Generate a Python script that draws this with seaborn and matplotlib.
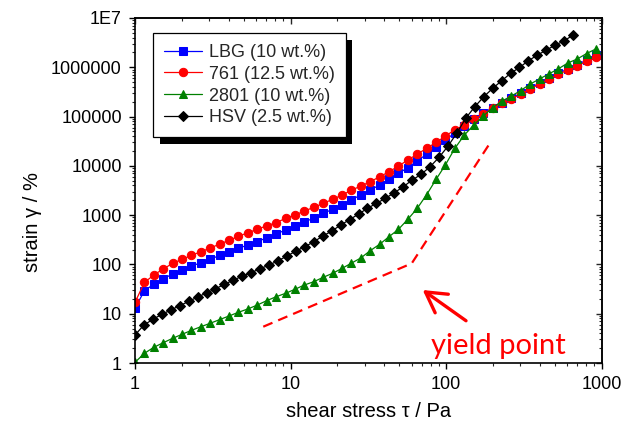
import matplotlib
matplotlib.use("Agg")
import matplotlib.pyplot as plt
import seaborn as sns
import pandas as pd
from matplotlib.ticker import NullFormatter, LogLocator
from matplotlib.patches import Rectangle
from matplotlib.transforms import IdentityTransform

# ---------------- data ----------------
stress_std = [1.000, 1.149, 1.321, 1.519, 1.746, 2.007, 2.307, 2.652, 3.048, 3.504,
              4.027, 4.629, 5.321, 6.116, 7.031, 8.082, 9.290, 10.68, 12.27, 14.11,
              16.22, 18.64, 21.43, 24.63, 28.31, 32.54, 37.41, 43.00, 49.43, 56.82,
              65.31, 75.07, 86.30, 99.19, 114.0, 131.1, 150.7, 173.2, 199.1, 228.8,
              263.0, 302.4, 347.5, 399.5, 459.2, 527.9, 606.7, 697.4, 801.7, 921.5]

stress_hsv = [1.000, 1.142, 1.303, 1.488, 1.698, 1.939, 2.213, 2.527, 2.884, 3.293,
              3.758, 4.290, 4.898, 5.591, 6.383, 7.286, 8.318, 9.495, 10.84, 12.37,
              14.13, 16.13, 18.41, 21.02, 23.99, 27.38, 31.26, 35.69, 40.74, 46.51,
              53.09, 60.60, 69.18, 78.97, 90.16, 102.9, 117.5, 134.1, 153.1, 174.8,
              199.5, 227.8, 260.0, 296.8, 338.8, 386.7, 441.6, 504.1, 575.4, 656.9]

strain_lbg = [13, 29, 40, 51, 64, 77, 93, 108, 127, 153,
              181, 212, 249, 289, 348, 414, 499, 592, 735, 861,
              1087, 1310, 1602, 2050, 2557, 3228, 4083, 5321, 7047, 9162,
              12680, 17100, 23710, 33340, 46900, 65000, 90000, 116000, 152000, 192000,
              236000, 298000, 378000, 478000, 605000, 755000, 925000, 1120000, 1400000, 1750000]

strain_761 = [17, 43, 61, 81, 105, 127, 153, 181, 215, 259,
              308, 372, 440, 515, 610, 702, 861, 1005, 1211, 1440,
              1734, 2089, 2557, 3200, 3900, 4755, 6010, 7586, 9908, 13110,
              17340, 22650, 29990, 40180, 54000, 67000, 87700, 112400, 146600, 185300,
              226500, 286000, 361000, 456000, 577000, 718000, 877000, 1057000, 1318000, 1633000]

strain_2801 = [1.03, 1.57, 2.08, 2.58, 3.17, 3.82, 4.6, 5.45, 6.4, 7.6,
               9.0, 10.7, 12.5, 15.0, 18.4, 22.1, 25.9, 31.3, 38.2, 44.6,
               54.7, 66, 83, 106, 135, 190, 256, 365, 515, 822,
               1374, 2600, 5300, 10500, 22650, 42000, 67300, 102000, 150000, 206000,
               260000, 338000, 456000, 580000, 735000, 930000, 1220000, 1470000, 1900000, 2360000]

strain_hsv = [3.7, 5.9, 7.7, 9.7, 11.9, 14.5, 17.8, 21.8, 26.3, 32,
              39.5, 48, 58, 68, 82, 97, 119, 148, 187, 229,
              289, 376, 475, 629, 810, 1052, 1374, 1734, 2193, 2844,
              3767, 5152, 6730, 9590, 14860, 25000, 46500, 93000, 158000, 252000,
              373000, 532000, 752000, 995000, 1355000, 1767000, 2232000, 2820000, 3450000, 4500000]

series_labels = ["LBG (10 wt.%)", "761 (12.5 wt.%)", "2801 (10 wt.%)", "HSV (2.5 wt.%)"]

# yield point guide (dashed) and arrow
yield_x = [6.68, 60.2, 190]
yield_y = [5.45, 105, 27700]
arrow_tip = (70.8, 30.3)
arrow_tail = (134.5, 7.2)
yield_text = "yield point"
yield_text_pos = (79.7, 1.52)

x_ticks = [1, 10, 100, 1000]
x_ticklabels = ["1", "10", "100", "1000"]
y_ticks = [1, 10, 100, 1000, 10000, 100000, 1000000, 10000000]
y_ticklabels = ["1", "10", "100", "1000", "10000", "100000", "1000000", "1E7"]

# ---------------- style ----------------
sns.set_theme(style="ticks")
plt.rcParams["font.family"] = ["Liberation Sans", "DejaVu Sans"]
plt.rcParams["axes.linewidth"] = 1.2

fig = plt.figure(figsize=(6.23, 4.29), dpi=100)
fig.patch.set_facecolor("white")
L, R, T, B = 135, 601.5, 18, 363
ax = fig.add_axes([L / 623, (429 - B) / 429, (R - L) / 623, (B - T) / 429])
ax.set_facecolor("white")

specs = [
    (stress_std, strain_lbg, "#0000ff", "s", 5.3),
    (stress_std, strain_761, "#ff0000", "o", 6.0),
    (stress_std, strain_2801, "#008000", "^", 6.4),
    (stress_hsv, strain_hsv, "#000000", "D", 5.2),
]
for (xs, ys, col, mk, ms), lab in zip(specs, series_labels):
    df = pd.DataFrame({"x": xs, "y": ys})
    sns.lineplot(data=df, x="x", y="y", ax=ax, color=col, marker=mk,
                 markersize=ms, markeredgecolor=col, markerfacecolor=col,
                 linewidth=0.9, label=lab, sort=False, estimator=None)

ax.set_xscale("log")
ax.set_yscale("log")
ax.set_xlim(1, 1000)
ax.set_ylim(1, 1e7)

# yield point annotation
ax.plot(yield_x, yield_y, color="#ff0000", linewidth=1.6, dashes=(4.5, 2.8), zorder=3)
ax.annotate("", xy=arrow_tip, xytext=arrow_tail,
            arrowprops=dict(arrowstyle="->,head_length=0.72,head_width=0.41",
                            color="#ff0000", lw=2.4, mutation_scale=20,
                            shrinkA=0, shrinkB=0))
ax.text(yield_text_pos[0], yield_text_pos[1], yield_text, color="#ff0000",
        fontsize=21, family=["Lato", "DejaVu Sans"], ha="left", va="baseline")

# ticks
ax.set_xticks(x_ticks)
ax.set_xticklabels(x_ticklabels)
ax.set_yticks(y_ticks)
ax.set_yticklabels(y_ticklabels)
ax.xaxis.set_minor_locator(LogLocator(base=10, subs=range(2, 10), numticks=20))
ax.yaxis.set_minor_locator(LogLocator(base=10, subs=range(2, 10), numticks=20))
ax.xaxis.set_minor_formatter(NullFormatter())
ax.yaxis.set_minor_formatter(NullFormatter())
ax.tick_params(which="major", direction="out", length=4.5, width=1.0,
               labelsize=13, pad=5, colors="black", top=False, right=False)
ax.tick_params(which="minor", direction="out", length=2.3, width=0.8,
               top=False, right=False)
for s in ax.spines.values():
    s.set_color("black")
    s.set_linewidth(1.2)

secx = ax.secondary_xaxis("top")
secx.xaxis.set_major_locator(LogLocator(base=10, numticks=20))
secx.xaxis.set_minor_locator(LogLocator(base=10, subs=range(2, 10), numticks=20))
secx.xaxis.set_major_formatter(NullFormatter())
secx.xaxis.set_minor_formatter(NullFormatter())
secx.tick_params(which="major", direction="in", length=4.5, width=1.0)
secx.tick_params(which="minor", direction="in", length=2.3, width=0.8)
secx.spines["top"].set_linewidth(1.2)

secy = ax.secondary_yaxis("right")
secy.yaxis.set_major_locator(LogLocator(base=10, numticks=20))
secy.yaxis.set_minor_locator(LogLocator(base=10, subs=range(2, 10), numticks=20))
secy.yaxis.set_major_formatter(NullFormatter())
secy.yaxis.set_minor_formatter(NullFormatter())
secy.tick_params(which="major", direction="in", length=4.5, width=1.0)
secy.tick_params(which="minor", direction="in", length=2.3, width=0.8)
secy.spines["right"].set_linewidth(1.2)

ax.set_xlabel("shear stress τ / Pa", fontsize=14.5, color="black")
ax.set_ylabel("strain γ / %", fontsize=14.5, color="black")
ax.xaxis.set_label_coords(0.5, -0.113)
ax.yaxis.set_label_coords(-0.2, 0.409)

leg = ax.legend(loc="upper left", bbox_to_anchor=((153 - L) / (R - L), (B - 33) / (B - T)),
                borderaxespad=0, fontsize=13, frameon=True, fancybox=False,
                edgecolor="black", framealpha=1, facecolor="white",
                handlelength=2.1, handletextpad=0.4, borderpad=0.6,
                labelspacing=0.27, numpoints=1)
leg.get_frame().set_linewidth(0.9)

fig.canvas.draw()
bb = leg.get_window_extent(fig.canvas.get_renderer())
shadow = Rectangle((bb.x0 + 6.5, bb.y0 - 6.5), bb.width, bb.height,
                   transform=IdentityTransform(), facecolor="black",
                   edgecolor="none", zorder=leg.get_zorder() - 0.1, clip_on=False)
ax.add_artist(shadow)

fig.savefig("out.png", dpi=100)
